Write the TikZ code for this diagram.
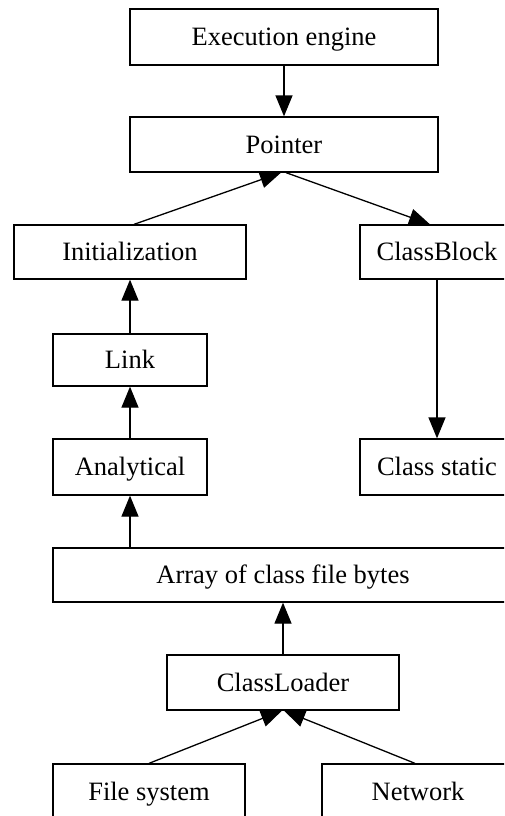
\documentclass[tikz,border=0pt]{standalone}
\usepackage{fontspec}
\setmainfont{Liberation Serif}
\usetikzlibrary{arrows.meta}
\begin{document}
\begin{tikzpicture}[x=1pt,y=-1pt,
  box/.style={draw,line width=1.3pt,inner sep=0pt,text height=20pt,text depth=3pt,
    font=\fontsize{26.5}{30}\selectfont},
  link/.style={line width=1.3pt,-{Triangle[length=21pt,width=17pt]}}]
  \clip (0,0) rectangle (504,816);
  \fill[white] (0,0) rectangle (504,816);

  % stages of the loading pipeline
  \node[box,minimum width=308,minimum height=56] (ee)   at (284,37)  {Execution engine};
  \node[box,minimum width=308,minimum height=55] (ptr)  at (284,144.5) {Pointer};
  \node[box,minimum width=232,minimum height=54] (init) at (130,252) {Initialization};
  \node[box,minimum width=154,minimum height=54] (cb)   at (437,252) {ClassBlock};
  \node[box,minimum width=154,minimum height=52] (lnk)  at (130,360) {Link};
  \node[box,minimum width=154,minimum height=56] (ana)  at (130,467) {Analytical};
  \node[box,minimum width=154,minimum height=56] (cs)   at (437,467) {Class static};
  \node[box,minimum width=460,minimum height=54] (arr)  at (283,575) {Array of class file bytes};
  \node[box,minimum width=232,minimum height=55] (cl)   at (283,682.5) {ClassLoader};
  \node[box,minimum width=192,minimum height=56] (fs)   at (149,792) {File system};
  \node[box,minimum width=192,minimum height=56] (net)  at (418,792) {Network};

  % connectors
  \draw[link] (ee.south) -- (ptr.south |- ptr.north);
  \draw[link] ([xshift=4pt]init.north) -- ([xshift=-3pt]ptr.south);
  \draw[link] ([xshift=2pt]ptr.south) -- ([xshift=-7pt]cb.north);
  \draw[link] (lnk.north) -- (init.south);
  \draw[link] (cb.south) -- (cs.north);
  \draw[link] (ana.north) -- (lnk.south);
  \draw[link] (arr.north -| ana.south) -- (ana.south);
  \draw[link] (cl.north) -- (arr.south -| cl.north);
  \draw[link] (fs.north) -- ([xshift=-1pt]cl.south);
  \draw[link] ([xshift=-3pt]net.north) -- ([xshift=1pt]cl.south);
\end{tikzpicture}
\end{document}
